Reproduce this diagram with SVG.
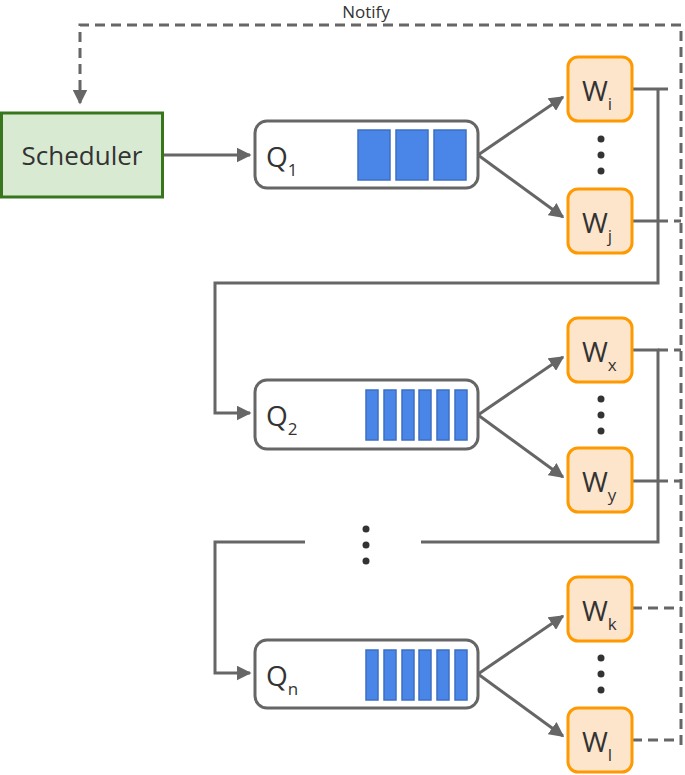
<svg xmlns="http://www.w3.org/2000/svg" width="685" height="775" viewBox="0 0 685 775">
<defs>
<marker id="ah" viewBox="0 0 10 10" refX="9" refY="5" markerWidth="5" markerHeight="5" orient="auto"><path d="M0,0 L10,5 L0,10 z" fill="#666"/></marker>
<style>
.q{fill:#fff;stroke:#666;stroke-width:3}
.b{fill:#4a86e8;stroke:#3c6fc4;stroke-width:1.5}
.w{fill:#fde5cc;stroke:#f90;stroke-width:3}
.l{fill:none;stroke:#666;stroke-width:3}
.d{fill:none;stroke:#666;stroke-width:3;stroke-dasharray:10,6}
.t{font-family:"Open Sans","Liberation Sans",sans-serif;fill:#333}
.dot{fill:#333}
</style>
</defs>
<g id="connectors">
<path class="d" d="M681,745 V25 H80 V103" marker-end="url(#ah)"/>
<path class="l" d="M163,155 H250" marker-end="url(#ah)"/>
<path class="l" d="M478,155 L563,97" marker-end="url(#ah)"/>
<path class="l" d="M478,155 L563,217" marker-end="url(#ah)"/>
<path class="l" d="M478,415 L563,357" marker-end="url(#ah)"/>
<path class="l" d="M478,415 L563,477" marker-end="url(#ah)"/>
<path class="l" d="M478,674 L563,616" marker-end="url(#ah)"/>
<path class="l" d="M478,674 L563,736" marker-end="url(#ah)"/>
<path class="l" d="M632,89 H668"/>
<path class="l" d="M632,221 H658"/>
<path class="l" d="M658,89 V283 H215 V413 H250" marker-end="url(#ah)"/>
<path class="d" d="M658,221 H681"/>
<path class="l" d="M632,350 H658 V542 H421"/>
<path class="l" d="M632,481 H658"/>
<path class="d" d="M658,350 H681 M658,481 H681"/>
<path class="l" d="M305,542 H215 V673 H250" marker-end="url(#ah)"/>
<path class="d" d="M632,608 H681 M632,740 H681"/>
</g>
<text class="t" x="366" y="18" font-size="17" text-anchor="middle">Notify</text>
<g id="scheduler"><rect x="1.5" y="113" width="161" height="84" fill="#d9ead3" stroke="#38761d" stroke-width="3"/><text class="t" x="82" y="165" font-size="26" text-anchor="middle">Scheduler</text></g>
<g id="q1"><rect class="q" x="255" y="121" width="223" height="67" rx="12"/><text class="t" x="266" y="167" font-size="28">Q<tspan font-size="17" dy="9">1</tspan></text>
<rect class="b" x="358" y="130" width="32" height="50"/><rect class="b" x="396" y="130" width="32" height="50"/><rect class="b" x="434" y="130" width="32" height="50"/></g>
<g id="q2"><rect class="q" x="255" y="380" width="223" height="69" rx="12"/><text class="t" x="266" y="426" font-size="28">Q<tspan font-size="17" dy="9">2</tspan></text>
<rect class="b" x="366" y="390" width="12" height="50"/><rect class="b" x="384" y="390" width="12" height="50"/><rect class="b" x="402" y="390" width="12" height="50"/><rect class="b" x="419" y="390" width="12" height="50"/><rect class="b" x="437" y="390" width="12" height="50"/><rect class="b" x="455" y="390" width="12" height="50"/></g>
<g id="qn"><rect class="q" x="255" y="640" width="223" height="68" rx="12"/><text class="t" x="266" y="686" font-size="28">Q<tspan font-size="17" dy="9">n</tspan></text>
<rect class="b" x="366" y="650" width="12" height="50"/><rect class="b" x="384" y="650" width="12" height="50"/><rect class="b" x="402" y="650" width="12" height="50"/><rect class="b" x="419" y="650" width="12" height="50"/><rect class="b" x="437" y="650" width="12" height="50"/><rect class="b" x="455" y="650" width="12" height="50"/></g>
<g id="wi"><rect class="w" x="568" y="57" width="64" height="64" rx="10"/><text class="t" x="582" y="101" font-size="28">W<tspan font-size="17" dy="9">i</tspan></text></g>
<g id="wj"><rect class="w" x="568" y="189" width="64" height="64" rx="10"/><text class="t" x="582" y="233" font-size="28">W<tspan font-size="17" dy="9">j</tspan></text></g>
<g id="wx"><rect class="w" x="568" y="318" width="64" height="64" rx="10"/><text class="t" x="582" y="362" font-size="28">W<tspan font-size="17" dy="9">x</tspan></text></g>
<g id="wy"><rect class="w" x="568" y="448" width="64" height="64" rx="10"/><text class="t" x="582" y="492" font-size="28">W<tspan font-size="17" dy="9">y</tspan></text></g>
<g id="wk"><rect class="w" x="568" y="577" width="64" height="64" rx="10"/><text class="t" x="582" y="621" font-size="28">W<tspan font-size="17" dy="9">k</tspan></text></g>
<g id="wl"><rect class="w" x="568" y="708" width="64" height="64" rx="10"/><text class="t" x="582" y="752" font-size="28">W<tspan font-size="17" dy="9">l</tspan></text></g>
<g id="dots">
<circle class="dot" cx="601" cy="139" r="3.5"/><circle class="dot" cx="601" cy="155" r="3.5"/><circle class="dot" cx="601" cy="171" r="3.5"/>
<circle class="dot" cx="601" cy="399" r="3.5"/><circle class="dot" cx="601" cy="415" r="3.5"/><circle class="dot" cx="601" cy="431" r="3.5"/>
<circle class="dot" cx="601" cy="658" r="3.5"/><circle class="dot" cx="601" cy="674" r="3.5"/><circle class="dot" cx="601" cy="690" r="3.5"/>
<circle class="dot" cx="366" cy="529" r="3.5"/><circle class="dot" cx="366" cy="545" r="3.5"/><circle class="dot" cx="366" cy="561" r="3.5"/>
</g>
</svg>
